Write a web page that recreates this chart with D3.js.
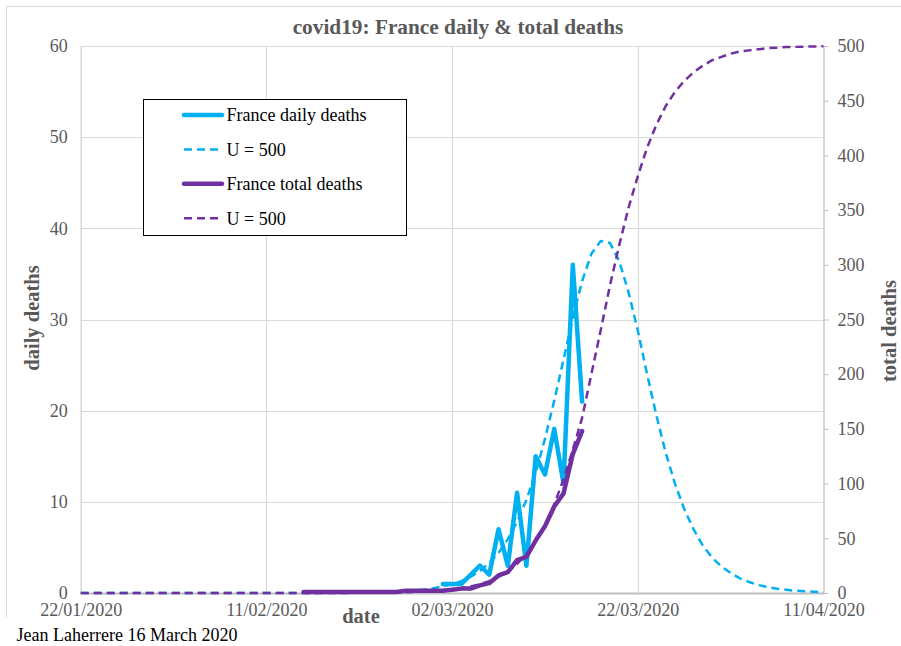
<!DOCTYPE html>
<html>
<head>
<meta charset="utf-8">
<script src="https://cdn.jsdelivr.net/npm/d3@7"></script>
<style>
  html, body { margin: 0; padding: 0; background: #fff; }
  svg { display: block; }
  text { font-family: "Liberation Serif", "Times New Roman", serif; }
</style>
</head>
<body>
<svg id="chart" width="901" height="646"></svg>
<script>
// ---------- data ----------
const startDate = "2020-01-22";           // first day of the x axis
const endDate = "2020-04-11";             // last day of the x axis
const xTickLabels = ["22/01/2020", "11/02/2020", "02/03/2020", "22/03/2020", "11/04/2020"];
const leftTicks = [0, 10, 20, 30, 40, 50, 60];
const rightTicks = [0, 50, 100, 150, 200, 250, 300, 350, 400, 450, 500];

// France daily deaths, from 01/03/2020
const dailyStart = "2020-03-01";
const dailyDeaths = [1, 1, 1, 2, 3, 2, 7, 3, 11, 3, 15, 13, 18, 12, 36, 21];

// France total deaths, from 15/02/2020
const totalStart = "2020-02-15";
const totalDeaths = [1, 1, 1, 1, 1, 1, 1, 1, 1, 1, 1, 2, 2, 2, 2,
                     2, 3, 4, 4, 7, 9, 16, 19, 30, 33, 48, 61, 79, 91, 127, 148];

// U = 500 fits, one value per day from 22/01/2020 to 11/04/2020
const dailyFit = [
  0, 0, 0, 0, 0, 0, 0, 0, 0, 0,
  0, 0, 0, 0, 0, 0, 0, 0, 0, 0,
  0, 0, 0, 0, 0.01, 0.01, 0.02, 0.02, 0.03, 0.04,
  0.05, 0.07, 0.09, 0.12, 0.16, 0.21, 0.29, 0.39, 0.53, 0.72,
  0.98, 1.3, 1.8, 2.4, 3.3, 4.4, 5.9, 7.8, 10.2, 13.2,
  16.9, 21.1, 25.6, 30.2, 34.2, 37.2, 38.6, 38.4, 36.4, 33.0,
  28.8, 24.0, 19.5, 15.4, 12.0, 9.2, 7.0, 5.2, 3.9, 2.9,
  2.2, 1.6, 1.2, 0.87, 0.64, 0.47, 0.35, 0.25, 0.19, 0.14, 0.10
];
const totalFit = [
  0, 0, 0, 0, 0, 0, 0, 0, 0, 0,
  0, 0, 0, 0, 0, 0, 0, 0, 0, 0,
  0, 0, 0, 0, 0.03, 0.04, 0.05, 0.06, 0.08, 0.1,
  0.14, 0.2, 0.27, 0.37, 0.5, 0.68, 0.92, 1.26, 1.7, 2.3,
  3.2, 4.3, 5.9, 8, 10.8, 14.7, 19.8, 26.6, 35.5, 47,
  62, 81, 104, 131, 160, 200, 240, 281, 318, 352,
  381, 407, 428, 445, 458, 468, 476, 482, 487, 490,
  493, 495, 496, 497, 498, 498.5, 499, 499.2, 499.4, 499.6, 499.7
];

// ---------- layout ----------
const svg = d3.select("#chart");
const plot = { left: 80.7, right: 823.5, top: 46, bottom: 593 };
const blue = "#00B0F0", purple = "#7030A0", grid = "#D9D9D9", axisGray = "#BFBFBF", txtGray = "#595959";

const parse = d3.utcParse("%Y-%m-%d");
const fmt = d3.utcFormat("%d/%m/%Y");
const x = d3.scaleUtc().domain([parse(startDate), parse(endDate)]).range([plot.left, plot.right]);
const yL = d3.scaleLinear().domain([0, 60]).range([plot.bottom, plot.top]);
const yR = d3.scaleLinear().domain([0, 500]).range([plot.bottom, plot.top]);

const seriesFrom = (start, arr) => arr.map((v, i) => ({ date: d3.utcDay.offset(parse(start), i), v }));

// chart border (top and left visible)
svg.append("line").attr("x1", 6.5).attr("x2", 901).attr("y1", 6.5).attr("y2", 6.5).attr("stroke", grid);
svg.append("line").attr("x1", 6.5).attr("x2", 6.5).attr("y1", 6.5).attr("y2", 617).attr("stroke", grid);

// horizontal gridlines
svg.append("g").selectAll("line").data(leftTicks.slice(1)).join("line")
  .attr("x1", plot.left).attr("x2", plot.right)
  .attr("y1", d => Math.round(yL(d)) + 0.5).attr("y2", d => Math.round(yL(d)) + 0.5)
  .attr("stroke", grid).attr("stroke-width", 1.2);

// vertical gridlines
const xTickDates = xTickLabels.map(s => d3.utcParse("%d/%m/%Y")(s));
svg.append("g").selectAll("line").data(xTickDates.slice(1, -1)).join("line")
  .attr("x1", d => Math.round(x(d)) + 0.5).attr("x2", d => Math.round(x(d)) + 0.5)
  .attr("y1", plot.top).attr("y2", plot.bottom)
  .attr("stroke", grid).attr("stroke-width", 1.2);

// left axis
const gL = svg.append("g").attr("transform", `translate(${plot.left},0)`)
  .call(d3.axisLeft(yL).tickValues(leftTicks).tickSize(0).tickPadding(13));
gL.select(".domain").attr("stroke", grid).attr("stroke-width", 1.5);
gL.selectAll("text").attr("font-size", 18).attr("fill", txtGray)
  .style("font-family", '"Liberation Serif", serif');

// right axis
const gR = svg.append("g").attr("transform", `translate(${plot.right},0)`)
  .call(d3.axisRight(yR).tickValues(rightTicks).tickSize(5).tickSizeOuter(0).tickPadding(9));
gR.select(".domain").attr("stroke", axisGray).attr("stroke-width", 1.2);
gR.selectAll(".tick line").attr("stroke", axisGray);
gR.selectAll("text").attr("font-size", 18).attr("fill", txtGray)
  .style("font-family", '"Liberation Serif", serif');

// bottom axis
const gB = svg.append("g").attr("transform", `translate(0,${plot.bottom})`)
  .call(d3.axisBottom(x).tickValues(xTickDates).tickFormat(fmt).tickSize(0).tickPadding(10));
gB.select(".domain").attr("stroke", axisGray).attr("stroke-width", 1.8);
gB.selectAll("text").attr("font-size", 18).attr("fill", txtGray)
  .style("font-family", '"Liberation Serif", serif');

// series
const lineL = d3.line().x(d => x(d.date)).y(d => yL(d.v));
const lineR = d3.line().x(d => x(d.date)).y(d => yR(d.v));

svg.append("path").datum(seriesFrom(dailyStart, dailyDeaths)).attr("d", lineL)
  .attr("fill", "none").attr("stroke", blue).attr("stroke-width", 4.5)
  .attr("stroke-linejoin", "round").attr("stroke-linecap", "round");
svg.append("path").datum(seriesFrom(startDate, dailyFit)).attr("d", lineL)
  .attr("fill", "none").attr("stroke", blue).attr("stroke-width", 2.5)
  .attr("stroke-dasharray", "8,5");
svg.append("path").datum(seriesFrom(totalStart, totalDeaths)).attr("d", lineR)
  .attr("fill", "none").attr("stroke", purple).attr("stroke-width", 4.5)
  .attr("stroke-linejoin", "round").attr("stroke-linecap", "round");
svg.append("path").datum(seriesFrom(startDate, totalFit)).attr("d", lineR)
  .attr("fill", "none").attr("stroke", purple).attr("stroke-width", 2.5)
  .attr("stroke-dasharray", "8,5");

// title
svg.append("text").attr("x", 458).attr("y", 34).attr("text-anchor", "middle")
  .attr("font-size", 21.3).attr("font-weight", "bold").attr("fill", txtGray)
  .text("covid19: France daily & total deaths");

// axis titles
svg.append("text").attr("transform", "translate(39,318) rotate(-90)").attr("text-anchor", "middle")
  .attr("font-size", 20.5).attr("font-weight", "bold").attr("fill", txtGray).text("daily deaths");
svg.append("text").attr("transform", "translate(896,331) rotate(-90)").attr("text-anchor", "middle")
  .attr("font-size", 20.5).attr("font-weight", "bold").attr("fill", txtGray).text("total deaths");
svg.append("text").attr("x", 361).attr("y", 623).attr("text-anchor", "middle")
  .attr("font-size", 20.5).attr("font-weight", "bold").attr("fill", txtGray).text("date");

// credit
svg.append("text").attr("x", 16.5).attr("y", 641).attr("font-size", 18).attr("fill", "#000")
  .text("Jean Laherrere 16 March 2020");

// legend
const legendItems = [
  { label: "France daily deaths", color: blue, width: 4.5, dash: null },
  { label: "U = 500", color: blue, width: 2.5, dash: "8,5" },
  { label: "France total deaths", color: purple, width: 4.5, dash: null },
  { label: "U = 500", color: purple, width: 2.5, dash: "8,5" }
];
const lg = svg.append("g");
lg.append("rect").attr("x", 143.5).attr("y", 99.5).attr("width", 263).attr("height", 136)
  .attr("fill", "#fff").attr("stroke", "#000").attr("stroke-width", 1);
const rows = lg.selectAll("g.row").data(legendItems).join("g")
  .attr("transform", (d, i) => `translate(0,${115 + i * 34.4})`);
rows.append("line").attr("x1", 184).attr("x2", 222).attr("y1", 0).attr("y2", 0)
  .attr("stroke", d => d.color).attr("stroke-width", d => d.width)
  .attr("stroke-dasharray", d => d.dash).attr("stroke-linecap", d => d.dash ? "butt" : "round");
rows.append("text").attr("x", 226.5).attr("y", 6.3).attr("font-size", 18).attr("fill", "#000")
  .text(d => d.label);
</script>
</body>
</html>
